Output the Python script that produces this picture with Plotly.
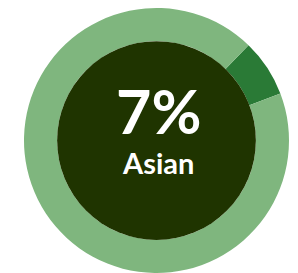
import plotly.graph_objects as go

labels = ["Asian", "Other"]
values = [7, 93]
colors = ["#2a7a36", "#7fb67e"]
center_value = "7%"
center_label = "Asian"

W, H = 298, 273
cx, cy, R = 156.5, 140.5, 132.5  # pixel centre (from top) and outer radius
hole = 0.75
r_in = R * hole

fig = go.Figure(go.Pie(
    labels=labels, values=values, marker=dict(colors=colors, line=dict(width=0)),
    hole=hole, sort=False, direction="clockwise", rotation=44,
    textinfo="none", hoverinfo="label+percent", showlegend=False,
    domain=dict(x=[(cx - R) / W, (cx + R) / W], y=[(H - cy - R) / H, (H - cy + R) / H]),
))

fig.add_shape(type="circle", xref="paper", yref="paper",
              x0=(cx - r_in) / W, x1=(cx + r_in) / W,
              y0=(H - cy - r_in) / H, y1=(H - cy + r_in) / H,
              fillcolor="#1f3400", line=dict(width=0), layer="above")

fig.add_annotation(x=(cx + 2) / W, y=(H - 110) / H, xref="paper", yref="paper",
                   text=f"<b>{center_value}</b>", showarrow=False,
                   font=dict(family="Lato", size=61, color="white"))
fig.add_annotation(x=(cx + 1) / W, y=(H - 162) / H, xref="paper", yref="paper",
                   text=f"<b>{center_label}</b>", showarrow=False,
                   font=dict(family="Lato", size=29, color="white"))

fig.update_layout(width=W, height=H, margin=dict(l=0, r=0, t=0, b=0),
                  paper_bgcolor="white", plot_bgcolor="white")
fig.write_html("out.html", config={"displayModeBar": False},
               post_script="document.body.style.margin='0';document.body.style.overflow='hidden';")
